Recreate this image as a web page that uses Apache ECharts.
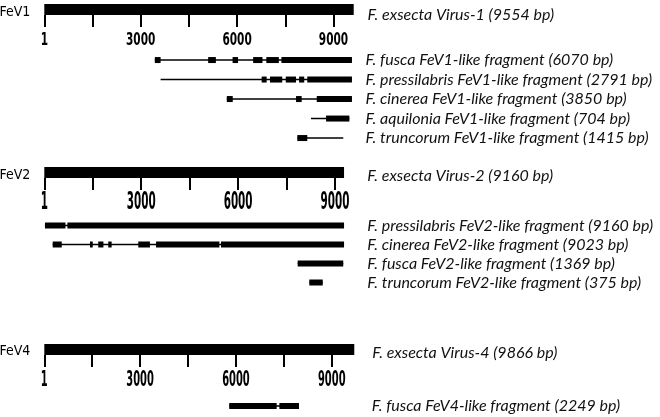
<!DOCTYPE html>
<html><head><meta charset="utf-8">
<script src="https://cdn.jsdelivr.net/npm/echarts@6/dist/echarts.min.js"></script>
<style>html,body{margin:0;padding:0;background:#fff}#c{width:660px;height:417px}</style>
</head><body><div id="c"></div>
<script>
// ---- data ----
const panelNames = ['FeV1', 'FeV2', 'FeV4'];
const genomeLabels = ['F. exsecta Virus-1 (9554 bp)', 'F. exsecta Virus-2 (9160 bp)', 'F. exsecta Virus-4 (9866 bp)'];
const genomeEnds = [9630, 9280, 9705];
const tickValues = [0, 1500, 3000, 4500, 6000, 7500, 9000];
const tickLabelValues = [0, 3000, 6000, 9000];
const tickLabelTexts = ['1', '3000', '6000', '9000'];

const fev1Labels = [
  'F. fusca FeV1-like fragment (6070 bp)',
  'F. pressilabris FeV1-like fragment (2791 bp)',
  'F. cinerea FeV1-like fragment (3850 bp)',
  'F. aquilonia FeV1-like fragment (704 bp)',
  'F. truncorum FeV1-like fragment (1415 bp)'
];
const fev1Spans = [[3440, 9575], [3620, 9575], [5680, 9575], [8300, 9495], [7875, 9305]];
const fev1Blocks = [
  [[3440, 3620], [5100, 5340], [5860, 6030], [6500, 6790], [6910, 7300], [7380, 9575]],
  [[6765, 6920], [7025, 7405], [7515, 7835], [7930, 8090], [8185, 9575]],
  [[5680, 5865], [7835, 8010], [8480, 9575]],
  [[8770, 9495]],
  [[7875, 8185]]
];

const fev2Labels = [
  'F. pressilabris FeV2-like fragment (9160 bp)',
  'F. cinerea FeV2-like fragment (9023 bp)',
  'F. fusca FeV2-like fragment (1369 bp)',
  'F. truncorum FeV2-like fragment (375 bp)'
];
const fev2Spans = [[20, 9280], [260, 9280], [7845, 9255], [8205, 8620]];
const fev2Blocks = [
  [[20, 655], [715, 9280]],
  [[260, 540], [1415, 1500], [1670, 1830], [1980, 2085], [2910, 3270], [3460, 5420], [5470, 9280]],
  [[7845, 9255]],
  [[8205, 8620]]
];

const fev4Labels = ['F. fusca FeV4-like fragment (2249 bp)'];
const fev4Spans = [[5790, 7975]];
const fev4Blocks = [[[5790, 7275], [7360, 7975]]];

// ---- layout (styles / positions only) ----
const layout = [
  { left: 44.3, width: 321.3, aTop: 4, bTop: 50.3, rowH: 19.5, tickFont: 18, tickScale: 0.65, labMargin: 0, gLabMargin: 2, gLabLH: 11, pLabLH: 6 },
  { left: 44.3, width: 323, aTop: 167, bTop: 216, rowH: 19, tickFont: 24, tickScale: 0.48, labMargin: 0, gLabMargin: 0, gLabLH: 6, pLabLH: 6 },
  { left: 44.3, width: 319.4, aTop: 344, bTop: 396.5, rowH: 19, tickFont: 22, tickScale: 0.5, labMargin: 8, gLabMargin: 8.5, gLabLH: 6, pLabLH: 4 }
];
const fragLabels = [fev1Labels, fev2Labels, fev4Labels];
const fragSpans = [fev1Spans, fev2Spans, fev4Spans];
const fragBlocks = [fev1Blocks, fev2Blocks, fev4Blocks];

const NARROW = "'DejaVu Sans Condensed', 'DejaVu Sans', sans-serif";
const ITAL = "Lato, 'Open Sans', sans-serif";
const BAR_H = 11, BLOCK_H = 6;

function renderSeg(params, api) {
  const s = api.coord([api.value(0), api.value(2)]);
  const e = api.coord([api.value(1), api.value(2)]);
  const kind = api.value(3);
  if (kind === 0) {
    return { type: 'line', shape: { x1: s[0], y1: s[1], x2: e[0], y2: e[1] }, style: { stroke: '#000', lineWidth: 1.5 } };
  }
  const h = kind === 2 ? BAR_H : BLOCK_H;
  return { type: 'rect', shape: { x: s[0], y: s[1] - h / 2, width: e[0] - s[0], height: h }, style: { fill: '#000' } };
}

function makeTickLabelRenderer(L) {
  return function (params, api) {
    const c = api.coord([api.value(0), api.value(1)]);
    return {
      type: 'text', x: c[0], y: c[1] + 30.5, scaleX: L.tickScale, scaleY: 1,
      style: {
        text: tickLabelTexts[params.dataIndex], fill: '#000',
        font: 'bold ' + L.tickFont + 'px ' + NARROW, align: 'center', verticalAlign: 'middle'
      }
    };
  };
}

const grid = [], xAxis = [], yAxis = [], series = [];
layout.forEach((L, p) => {
  const nRows = fragLabels[p].length;
  const gA = grid.length;
  grid.push({ left: L.left, width: L.width, top: L.aTop, height: BAR_H, containLabel: false, outerBoundsMode: 'none' });
  const gB = grid.length;
  grid.push({ left: L.left, width: L.width, top: L.bTop, height: L.rowH * nRows, containLabel: false, outerBoundsMode: 'none' });

  xAxis.push({
    gridIndex: gA, type: 'value', min: 0, max: 10000, position: 'bottom',
    axisLine: { show: false }, splitLine: { show: false },
    axisTick: { show: true, customValues: tickValues, length: 12, lineStyle: { color: '#000', width: 2 } },
    axisLabel: { show: false }
  });
  const xA = xAxis.length - 1;
  xAxis.push({ gridIndex: gB, type: 'value', min: 0, max: 10000, show: false });
  const xB = xAxis.length - 1;

  yAxis.push({
    gridIndex: gA, type: 'category', data: [panelNames[p]], position: 'left',
    axisLine: { show: false }, axisTick: { show: false }, splitLine: { show: false },
    axisLabel: { interval: 0, margin: 14, fontFamily: NARROW, fontSize: 14, color: '#000', verticalAlign: 'top', lineHeight: L.pLabLH }
  });
  const yAL = yAxis.length - 1;
  yAxis.push({
    gridIndex: gA, type: 'category', data: [genomeLabels[p]], position: 'right',
    axisLine: { show: false }, axisTick: { show: false }, splitLine: { show: false },
    axisLabel: { interval: 0, margin: L.gLabMargin, fontFamily: ITAL, fontStyle: 'italic', fontSize: 16, color: '#111', verticalAlign: 'top', lineHeight: L.gLabLH }
  });
  yAxis.push({
    gridIndex: gB, type: 'category', data: fragLabels[p], position: 'right', inverse: true,
    axisLine: { show: false }, axisTick: { show: false }, splitLine: { show: false },
    axisLabel: { interval: 0, margin: L.labMargin, fontFamily: ITAL, fontStyle: 'italic', fontSize: 16, color: '#111' }
  });
  const yB = yAxis.length - 1;

  series.push({
    type: 'custom', xAxisIndex: xA, yAxisIndex: yAL, renderItem: renderSeg,
    encode: { x: [0, 1], y: 2 }, data: [[0, genomeEnds[p], 0, 2]], silent: true
  });
  series.push({
    type: 'custom', xAxisIndex: xA, yAxisIndex: yAL, renderItem: makeTickLabelRenderer(L),
    encode: { x: 0, y: 1 }, data: tickLabelValues.map(v => [v, 0]), silent: true
  });
  const segData = [];
  fragSpans[p].forEach((sp, i) => {
    segData.push([sp[0], sp[1], i, 0]);
    fragBlocks[p][i].forEach(b => segData.push([b[0], b[1], i, 1]));
  });
  series.push({
    type: 'custom', xAxisIndex: xB, yAxisIndex: yB, renderItem: renderSeg,
    encode: { x: [0, 1], y: 2 }, data: segData, silent: true
  });
});

const chart = echarts.init(document.getElementById('c'), null, { renderer: 'canvas' });
chart.setOption({ animation: false, backgroundColor: '#fff', grid, xAxis, yAxis, series });
</script>
</body></html>
